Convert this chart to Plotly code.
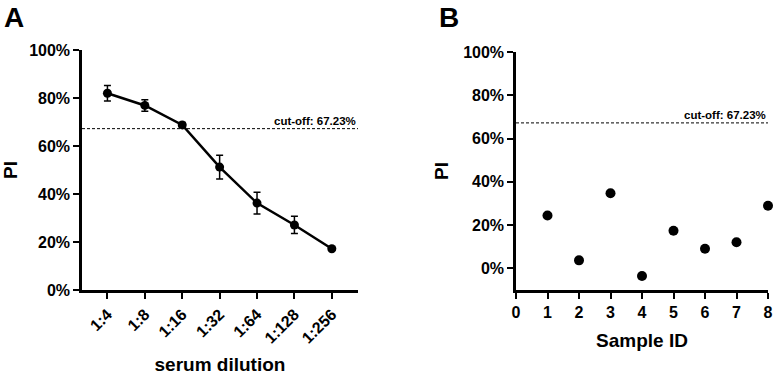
import plotly.graph_objects as go

# Panel A data
dilutions = ["1:4", "1:8", "1:16", "1:32", "1:64", "1:128", "1:256"]
pi_mean = [82.0, 76.9, 68.8, 51.2, 36.2, 27.1, 17.2]
pi_err = [3.2, 2.4, 1.0, 4.9, 4.5, 3.6, 0.6]

# Panel B data
sample_ids = [1, 2, 3, 4, 5, 6, 7, 8]
sample_pi = [24.4, 3.7, 34.7, -3.5, 17.4, 9.1, 12.1, 28.9]

cutoff = 67.23
y_ticks = [0, 20, 40, 60, 80, 100]
y_tick_labels = ["0%", "20%", "40%", "60%", "80%", "100%"]
x_ticks_b = [0, 1, 2, 3, 4, 5, 6, 7, 8]

FONT = "Liberation Sans, Arial, sans-serif"

fig = go.Figure()

fig.add_trace(go.Scatter(
    x=dilutions, y=pi_mean, mode="lines+markers",
    line=dict(color="black", width=2.5),
    marker=dict(color="black", size=9),
    error_y=dict(type="data", array=pi_err, visible=True, color="black", thickness=1.5, width=3.5),
    xaxis="x", yaxis="y", showlegend=False, cliponaxis=False,
))

fig.add_trace(go.Scatter(
    x=sample_ids, y=sample_pi, mode="markers",
    marker=dict(color="black", size=10),
    xaxis="x2", yaxis="y2", showlegend=False, cliponaxis=False,
))

def axis_common():
    return dict(
        showline=True, linecolor="black", linewidth=2.5,
        ticks="outside", ticklen=6, tickwidth=2, tickcolor="black",
        showgrid=False, zeroline=False, automargin=False,
        tickfont=dict(family=FONT, size=16, color="black", weight="bold"),
    )

title_font = dict(family=FONT, size=19, color="black", weight="bold")

fig.update_layout(
    width=774, height=375,
    margin=dict(l=0, r=0, t=0, b=0),
    paper_bgcolor="white", plot_bgcolor="white",
    font=dict(family=FONT, color="black"),
    xaxis=dict(
        domain=[82 / 774, 358 / 774], anchor="y",
        type="category", categoryorder="array", categoryarray=dilutions,
        range=[-0.68, 6.7], tickangle=-45,
        title=dict(text="serum dilution", font=title_font, standoff=26),
        **axis_common(),
    ),
    yaxis=dict(
        domain=[1 - 290 / 375, 1 - 50 / 375], anchor="x",
        range=[0, 100], tickmode="array", tickvals=y_ticks, ticktext=y_tick_labels,
        title=dict(text="PI", font=title_font, standoff=12),
        **axis_common(),
    ),
    xaxis2=dict(
        domain=[516 / 774, 768 / 774], anchor="y2",
        range=[0, 8], tickmode="array", tickvals=x_ticks_b,
        title=dict(text="Sample ID", font=title_font, standoff=14),
        **axis_common(),
    ),
    yaxis2=dict(
        domain=[1 - 290 / 375, 1 - 52 / 375], anchor="x2",
        range=[-10, 100], tickmode="array", tickvals=y_ticks, ticktext=y_tick_labels,
        title=dict(text="PI", font=title_font, standoff=10),
        **axis_common(),
    ),
)

for xr, yr in (("x", "y"), ("x2", "y2")):
    fig.add_shape(type="line", xref=f"{xr} domain", yref=yr, x0=0, x1=1, y0=cutoff, y1=cutoff,
                  line=dict(color="black", width=1, dash="3px,2px"))
    fig.add_annotation(xref=f"{xr} domain", yref=yr, x=1, y=cutoff, xanchor="right", yanchor="bottom",
                       text=f"cut-off: {cutoff:.2f}%", showarrow=False, yshift=0,
                       font=dict(family=FONT, size=11.5, color="black", weight="bold"))

fig.add_annotation(xref="paper", yref="paper", x=2 / 774, y=1.0, xanchor="left", yanchor="top",
                   text="A", showarrow=False, font=dict(family=FONT, size=28, color="black", weight="bold"))
fig.add_annotation(xref="paper", yref="paper", x=437 / 774, y=1.0, xanchor="left", yanchor="top",
                   text="B", showarrow=False, font=dict(family=FONT, size=28, color="black", weight="bold"))

fig.write_html("out.html", config={"displayModeBar": False},
               post_script="document.body.style.margin='0';")
